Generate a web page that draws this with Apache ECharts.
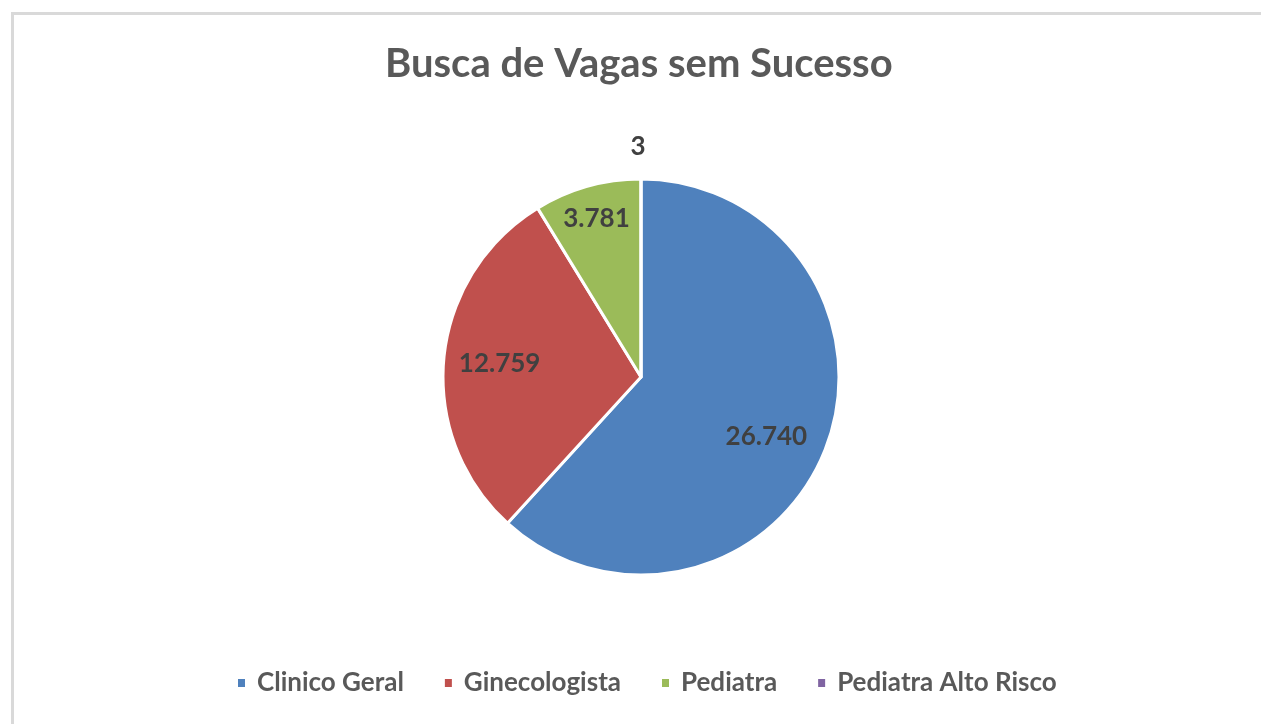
<!DOCTYPE html>
<html>
<head>
<meta charset="utf-8">
<script src="https://cdn.jsdelivr.net/npm/echarts@6/dist/echarts.min.js"></script>
<style>
  html, body { margin: 0; padding: 0; background: #fff; }
  #chart { width: 1261px; height: 724px; }
</style>
</head>
<body>
<div id="chart"></div>
<script>
// dados
const categorias = ['Clinico Geral', 'Ginecologista', 'Pediatra', 'Pediatra Alto Risco']
const valores = [26740, 12759, 3781, 3]
const cores = ['#4f81bd', '#c0504d', '#9bbb59', '#8064a2']

const fonte = 'Lato, "Noto Sans", sans-serif'
const fmt = v => v.toLocaleString('pt-BR')

const chart = echarts.init(document.getElementById('chart'))

const dados = categorias.map((nome, i) => ({ name: nome, value: valores[i] }))

// rótulos: posições como no Excel (mais para a borda)
const deslocamentos = [[-7, 8], null, [-6, -22], [-3, -88]]
const dadosRotulos = categorias.map((nome, i) => {
    const item = { name: nome, value: valores[i] }
    if (deslocamentos[i]) item.label = { offset: deslocamentos[i] }
    return item
})

const option = {
    animation: false,
    color: cores,
    title: {
        text: 'Busca de Vagas sem Sucesso',
        left: 380,
        top: 39,
        textStyle: { fontFamily: fonte, fontSize: 40, fontWeight: 'bold', color: '#595959' }
    },
    legend: {
        top: 665,
        left: 231,
        icon: 'rect',
        itemWidth: 9,
        itemHeight: 10,
        itemGap: 39,
        textStyle: { fontFamily: fonte, fontSize: 26, fontWeight: 'bold', color: '#595959', padding: [0, 0, 0, 6] },
        data: categorias
    },
    graphic: [
        {
            type: 'rect',
            left: 10, top: 11,
            shape: { width: 1280, height: 760 },
            style: { fill: 'none', stroke: '#d9d9d9', lineWidth: 3 },
            silent: true
        }
    ],
    series: [
        {
            type: 'pie',
            center: [641, 377],
            radius: [0, 198],
            startAngle: 90,
            clockwise: true,
            label: { show: false },
            labelLine: { show: false },
            itemStyle: { borderColor: '#fff', borderWidth: 3 },
            emphasis: { disabled: true },
            data: dados
        },
        {
            type: 'pie',
            center: [641, 377],
            radius: [80, 198],
            startAngle: 90,
            clockwise: true,
            silent: true,
            itemStyle: { color: 'rgba(0,0,0,0)' },
            label: {
                show: true,
                position: 'inside',
                formatter: p => fmt(p.value),
                fontFamily: fonte,
                fontSize: 26,
                fontWeight: 'bold',
                color: '#404040'
            },
            labelLine: { show: false },
            emphasis: { disabled: true },
            data: dadosRotulos
        }
    ]
}

chart.setOption(option)
</script>
</body>
</html>
